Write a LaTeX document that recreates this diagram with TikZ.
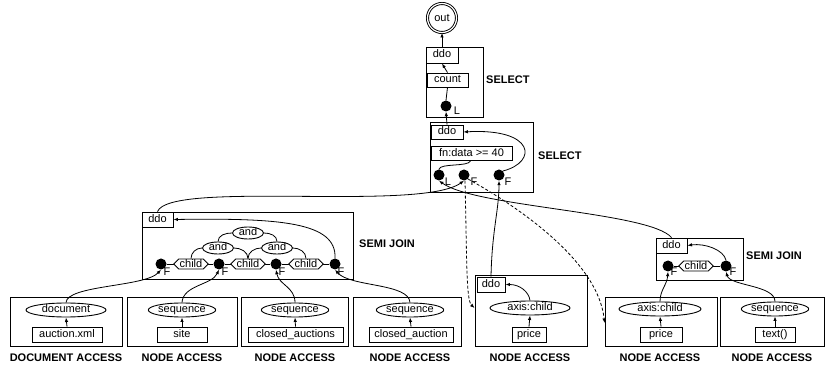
\documentclass[tikz,border=0pt]{standalone}
\usepackage{fontspec}
\setmainfont{Liberation Sans}
\usetikzlibrary{shapes.geometric,shapes.symbols,arrows.meta,calc}
\newcommand{\fs}{\fontsize{11}{13}\selectfont}
\begin{document}
\begin{tikzpicture}[x=1pt,y=1pt,
  every node/.style={font=\fs},
  frame/.style={draw, line width=0.9pt, rectangle, inner sep=0pt},
  bx/.style={draw, line width=0.9pt, rectangle, fill=white, inner xsep=2pt, inner ysep=0pt, minimum height=15pt, text height=8pt, text depth=2pt},
  el/.style={draw, line width=0.9pt, ellipse, fill=white, inner sep=0pt, minimum height=14pt, text height=7pt, text depth=2pt},
  andel/.style={draw, line width=0.9pt, ellipse, fill=white, inner sep=0pt, minimum width=31pt, minimum height=12pt, text height=7pt, text depth=1pt},
  dotn/.style={circle, fill=black, inner sep=0pt, minimum size=11pt},
  chl/.style={draw, line width=0.9pt, signal, signal to=west and east, fill=white, inner xsep=1pt, inner ysep=0pt, minimum height=10pt, text height=7.5pt, text depth=0.5pt},
  lbl/.style={inner sep=0pt},
  ttl/.style={inner sep=0pt, font=\fs\bfseries},
  arr/.style={line width=0.8pt, -{Latex[length=4.5pt,width=3.5pt]}},
  ln/.style={line width=0.8pt},
  dsh/.style={line width=0.8pt, dash pattern=on 3pt off 2pt, -{Latex[length=4.5pt,width=3.5pt]}},
]
\useasboundingbox (0,0) rectangle (825,-371);

% ---------- frames ----------
\node[frame, minimum width=57pt, minimum height=70pt] (S1) at (454.5,-82) {};
\node[frame, minimum width=103pt, minimum height=70pt] (S2) at (481.5,-157) {};
\node[frame, minimum width=211pt, minimum height=67pt] (J1) at (247.5,-245.5) {};
\node[frame, minimum width=87pt, minimum height=42pt] (J2) at (699.5,-259) {};
\node[frame, minimum width=112pt, minimum height=49pt] (B1) at (66,-322) {};
\node[frame, minimum width=110pt, minimum height=49pt] (B2) at (182,-322) {};
\node[frame, minimum width=107pt, minimum height=49pt] (B3) at (294.5,-322) {};
\node[frame, minimum width=108pt, minimum height=49pt] (B4) at (407,-322) {};
\node[frame, minimum width=112pt, minimum height=71.5pt] (B5) at (531,-310.75) {};
\node[frame, minimum width=112pt, minimum height=49pt] (B6) at (661,-322) {};
\node[frame, minimum width=104pt, minimum height=49pt] (B7) at (772,-322) {};

% ---------- top ----------
\node[draw, circle, double, double distance=1.2pt, line width=0.9pt, minimum size=29pt, inner sep=0pt] (out) at (442,-18) {out};
\node[bx, minimum width=32pt, minimum height=16pt] (s1ddo) at (442,-55) {ddo};
\node[bx, minimum width=41pt, minimum height=14pt] (count) at (447.5,-80) {count};
\node[dotn] (dS1) at (446,-106) {};
\node[lbl] (lS1) at (457,-111) {L};
\node[ttl, anchor=west] (tS1) at (486,-80) {SELECT};

\draw[arr] (s1ddo.north) -- (out.south);
\draw[arr] (count.north) -- (s1ddo.south);
\draw[ln] (dS1.north) -- (count.south);

% ---------- second select ----------
\node[bx, minimum width=32pt, minimum height=14pt] (s2ddo) at (447,-132) {ddo};
\node[bx, minimum width=81pt, minimum height=14pt] (fn) at (471.5,-153.5) {fn:data >= 40};
\node[dotn] (dL) at (439,-175) {};
\node[dotn] (dF) at (464,-175) {};
\node[dotn] (dF3) at (499,-175) {};
\node[lbl] (lL) at (448,-182) {L};
\node[lbl] (lF) at (474,-182) {F};
\node[lbl] (lF3) at (508,-182) {F};
\node[ttl, anchor=west] (tS2) at (538,-156) {SELECT};

\draw[arr] (s2ddo.north) -- (dS1.south);
\draw[ln] ($(fn.south)+(-1,0)$) .. controls (468,-167) and (440,-163) .. (dL.north);
\draw[arr] (dF3.45) .. controls (538,-162) and (535,-128) .. (s2ddo.east);

% ---------- left semi join ----------
\node[bx, minimum width=31pt] (j1ddo) at (157.5,-219.5) {ddo};
\node[dotn] (a1) at (161,-264) {};
\node[dotn] (a2) at (219,-264) {};
\node[dotn] (a3) at (276,-264) {};
\node[dotn] (a4) at (335,-264) {};
\draw[ln] (a1) -- (a2) -- (a3) -- (a4);
\node[chl] (c1) at (191,-264) {child};
\node[chl] (c2) at (248,-264) {child};
\node[chl] (c3) at (306,-264) {child};
\node[andel] (t0) at (248,-233) {and};
\node[andel] (t1) at (218,-248) {and};
\node[andel] (t2) at (277,-248) {and};
\draw[ln] (t0.west) to[out=180,in=90] (t1.north);
\draw[ln] (t0.east) to[out=0,in=90] (t2.north);
\draw[ln] (t1.west) to[out=180,in=90] (c1.north);
\draw[ln] (t1.east) to[out=0,in=90] (c2.north);
\draw[ln] (t2.west) to[out=180,in=90] (c2.north);
\draw[ln] (t2.east) to[out=0,in=90] (c3.north);
\draw[arr] (a4.north) .. controls (337,-222) and (280,-218) .. (j1ddo.east);
\node[lbl] (la1) at (167,-272) {F};
\node[lbl] (la2) at (225,-272) {F};
\node[lbl] (la3) at (282,-272) {F};
\node[lbl] (la4) at (341,-272) {F};
\node[ttl, anchor=west] (tJ1) at (359,-244) {SEMI JOIN};

% ---------- right semi join ----------
\node[bx, minimum width=31pt] (j2ddo) at (671.5,-245.5) {ddo};
\node[dotn] (e1) at (668,-266) {};
\node[dotn] (e2) at (726,-266) {};
\draw[ln] (e1) -- (e2);
\node[chl] (c4) at (696,-266) {child};
\node[lbl] (le1) at (674,-272) {F};
\node[lbl] (le2) at (733,-272) {F};
\draw[arr] (e2.north) .. controls (724,-250) and (705,-243) .. (j2ddo.east);
\node[ttl, anchor=west] (tJ2) at (746,-256) {SEMI JOIN};

% ---------- bottom access boxes ----------
\node[el, minimum width=80pt] (doc) at (66,-310) {document};
\node[bx, minimum width=70pt] (axml) at (67,-334.5) {auction.xml};
\node[el, minimum width=64pt] (q1) at (182,-310) {sequence};
\node[bx, minimum width=50pt] (site) at (182,-334.5) {site};
\node[el, minimum width=64pt] (q2) at (295,-310) {sequence};
\node[bx, minimum width=95pt] (cas) at (295.5,-334.5) {closed\_auctions};
\node[el, minimum width=64pt] (q3) at (410,-310) {sequence};
\node[bx, minimum width=84pt] (ca) at (411,-334.5) {closed\_auction};
\node[bx, minimum width=28pt] (b5ddo) at (491,-284.5) {ddo};
\node[el, minimum width=80pt] (ax1) at (530,-308) {axis:child};
\node[bx, minimum width=34pt] (pr1) at (529,-334.5) {price};
\node[el, minimum width=82pt] (ax2) at (660,-309) {axis:child};
\node[bx, minimum width=42pt] (pr2) at (661,-334.5) {price};
\node[el, minimum width=64pt] (q7) at (775,-309) {sequence};
\node[bx, minimum width=40pt] (txt) at (775,-334.5) {text()};

\draw[arr] (axml.north) -- (doc.south);
\draw[arr] (site.north) -- (q1.south);
\draw[arr] (cas.north) -- (q2.south);
\draw[arr] (ca.north) -- (q3.south);
\draw[arr] (pr1.north) -- (ax1.south);
\draw[arr] (pr2.north) -- (ax2.south);
\draw[arr] (txt.north) -- (q7.south);
\draw[arr] (ax1.north) .. controls (529,-292) and (520,-284.5) .. (b5ddo.east);

\node[ttl] (n1) at (66,-358) {DOCUMENT ACCESS};
\node[ttl] (n2) at (182,-358) {NODE ACCESS};
\node[ttl] (n3) at (295,-358) {NODE ACCESS};
\node[ttl] (n4) at (410,-358) {NODE ACCESS};
\node[ttl] (n5) at (530,-358) {NODE ACCESS};
\node[ttl] (n6) at (660,-358) {NODE ACCESS};
\node[ttl] (n7) at (772,-358) {NODE ACCESS};

% ---------- inter-operator connectors ----------
\draw[arr] (doc.north) .. controls (67,-285) and (145,-287) .. (a1.south);
\draw[arr] (q1.north) .. controls (183,-285) and (212,-285) .. (a2.south);
\draw[arr] (q2.north) .. controls (295,-287) and (279,-285) .. (a3.south);
\draw[arr] (q3.north) .. controls (409,-283) and (350,-287) .. (a4.south);
\draw[arr] (ax2.north) .. controls (660,-290) and (667,-285) .. (e1.south);
\draw[arr] (q7.north) .. controls (775,-285) and (730,-286) .. (e2.south);

\draw[arr] (j1ddo.north) .. controls (170,-180) and (420,-212) .. (dF.south);
\draw[arr] (j2ddo.north) .. controls (650,-212) and (475,-207) .. (dL.south);
\draw[arr] (b5ddo.north) .. controls (492,-230) and (499,-210) .. (dF3.south);

\coordinate (m5) at (B5.west |- ax1);
\coordinate (m6) at ($(B6.west)+(0,-1)$);
\draw[dsh] (dF.-80) .. controls (467,-260) and (466,-300) .. (m5);
\draw[dsh] (dF.-45) .. controls (515,-205) and (598,-260) .. (m6);
\end{tikzpicture}
\end{document}
